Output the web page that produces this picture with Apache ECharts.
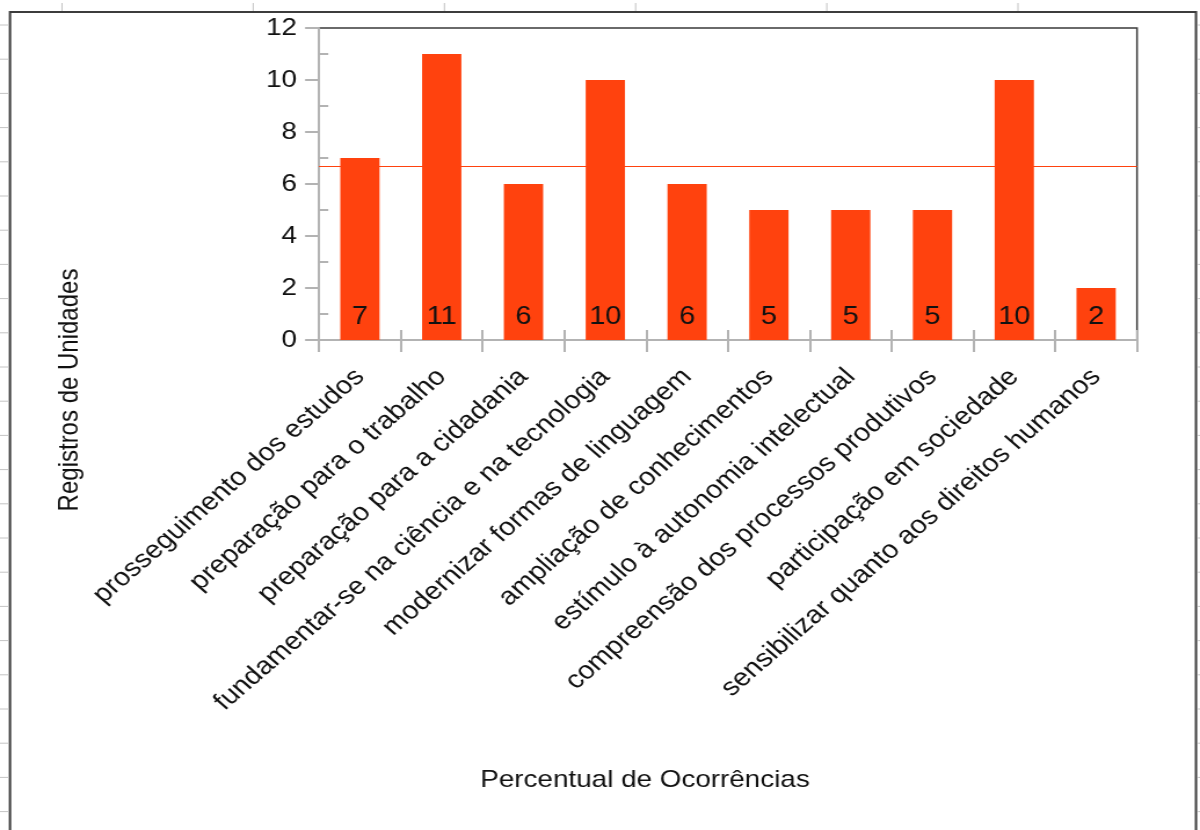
<!DOCTYPE html>
<html>
<head>
<meta charset="utf-8">
<title>Registros de Unidades</title>
<script src="https://cdn.jsdelivr.net/npm/echarts@6/dist/echarts.min.js"></script>
<style>
  html, body { margin: 0; padding: 0; background: #fff; overflow: hidden; }
  /* the chart is laid out on a narrower canvas and widened horizontally */
  #chart { width: 1035px; height: 830px; transform: scaleX(1.15942); transform-origin: 0 0; }
</style>
</head>
<body>
<div id="chart"></div>
<script>
// ---- data ----
const categories = [
  'prosseguimento dos estudos',
  'preparação para o trabalho',
  'preparação para a cidadania',
  'fundamentar-se na ciência e na tecnologia',
  'modernizar formas de linguagem',
  'ampliação de conhecimentos',
  'estímulo à autonomia intelectual',
  'compreensão dos processos produtivos',
  'participação em sociedade',
  'sensibilizar quanto aos direitos humanos'
];
const registros = [7, 11, 6, 10, 6, 5, 5, 5, 10, 2];
const yMin = 0;
const yMax = 12;
const yStep = 2;
const yMinorTicks = [1, 3, 5, 7, 9, 11];
const yAxisTitle = 'Registros de Unidades';
const xAxisTitle = 'Percentual de Ocorrências';

// ---- layout helpers ----
const STRETCH = 1200 / 1035;          // horizontal widening applied by CSS
const px = x => x / STRETCH;          // page x -> canvas x
const FONT = "'Liberation Sans', Arial, sans-serif";
const AXIS_GRAY = '#b3b3b3';
const BAR_COLOR = '#ff420e';
const TEXT = '#111';

// sheet frame and cell-grid marks around the chart object
const decor = [];
decor.push({
  type: 'rect', z: 0, silent: true,
  shape: { x: px(10), y: 12, width: px(1196) - px(10), height: 900 },
  style: { fill: 'none', stroke: '#3c3c3c', lineWidth: 2 }
});
for (let y = 25; y < 830; y += 34.2) {
  decor.push({ type: 'line', silent: true, shape: { x1: 0, y1: y, x2: px(9), y2: y },
    style: { stroke: '#c4c4c4', lineWidth: 1 } });
  decor.push({ type: 'line', silent: true, shape: { x1: px(1198), y1: y, x2: px(1200), y2: y },
    style: { stroke: '#c4c4c4', lineWidth: 1 } });
}
for (let x = 62; x < 1100; x += 191.2) {
  decor.push({ type: 'line', silent: true, shape: { x1: px(x), y1: 3, x2: px(x), y2: 11 },
    style: { stroke: '#c4c4c4', lineWidth: 1 } });
}
// axis titles
decor.push({
  type: 'text', x: px(70), y: 390, rotation: Math.PI / 2,
  style: { text: yAxisTitle, fontSize: 24, fontFamily: FONT, fill: TEXT, align: 'center', verticalAlign: 'middle' }
});
decor.push({
  type: 'text', x: px(645), y: 780,
  style: { text: xAxisTitle, fontSize: 24, fontFamily: FONT, fill: TEXT, align: 'center', verticalAlign: 'middle' }
});

const chart = echarts.init(document.getElementById('chart'), null, { renderer: 'canvas' });
chart.setOption({
  animation: false,
  backgroundColor: '#fff',
  textStyle: { fontFamily: FONT },
  grid: {
    left: px(319), top: 28, width: px(1137) - px(319), height: 312,
    show: true, borderColor: '#3a3a3a', borderWidth: 1.5, backgroundColor: 'transparent',
    containLabel: false, outerBoundsMode: 'none'
  },
  xAxis: [
    {
      type: 'category', data: categories, position: 'bottom', boundaryGap: true,
      axisLine: { show: true, lineStyle: { color: AXIS_GRAY, width: 2 } },
      axisTick: { show: true, length: 12, interval: 0, lineStyle: { color: AXIS_GRAY, width: 2 } },
      axisLabel: { rotate: 45, interval: 0, margin: 33, fontSize: 25, color: TEXT, hideOverlap: false },
      splitLine: { show: false }
    },
    {
      type: 'category', data: categories, position: 'bottom', boundaryGap: true,
      axisLine: { show: false },
      axisTick: { show: true, inside: true, length: 10, interval: 0, lineStyle: { color: AXIS_GRAY, width: 2 } },
      axisLabel: { show: false },
      splitLine: { show: false }
    }
  ],
  yAxis: [
    {
      type: 'value', min: yMin, max: yMax, interval: yStep, position: 'left',
      axisLine: { show: true, lineStyle: { color: AXIS_GRAY, width: 2 } },
      axisTick: { show: true, length: 12, lineStyle: { color: AXIS_GRAY, width: 2 } },
      axisLabel: { fontSize: 24, margin: 19, color: TEXT },
      splitLine: { show: false }
    },
    {
      type: 'value', min: yMin, max: yMax, interval: 1, position: 'left',
      axisLine: { show: false },
      axisTick: { show: true, inside: true, length: 8, customValues: yMinorTicks,
        lineStyle: { color: AXIS_GRAY, width: 2 } },
      axisLabel: { show: false },
      splitLine: { show: false }
    }
  ],
  series: [
    {
      type: 'bar', name: yAxisTitle, data: registros, xAxisIndex: 0, yAxisIndex: 0,
      barCategoryGap: '52%',
      itemStyle: { color: BAR_COLOR },
      label: { show: true, position: 'insideBottom', distance: 10, fontSize: 25, color: TEXT },
      markLine: {
        silent: true, symbol: 'none', label: { show: false },
        lineStyle: { color: BAR_COLOR, width: 1.2, type: 'solid' },
        data: [{ type: 'average' }]
      }
    }
  ],
  graphic: decor
});
</script>
</body>
</html>
